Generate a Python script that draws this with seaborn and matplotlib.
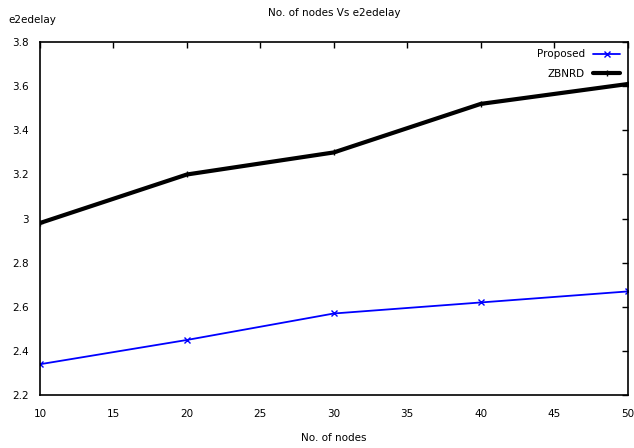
import matplotlib
matplotlib.use("Agg")
import matplotlib.pyplot as plt
import seaborn as sns

# ── Data ──────────────────────────────────────────────────────────────────────
NODES    = [10, 20, 30, 40, 50]
PROPOSED = [2.34, 2.45, 2.57, 2.62, 2.67]
ZBNRD    = [2.98, 3.20, 3.30, 3.52, 3.61]

X_TICKS = [10, 15, 20, 25, 30, 35, 40, 45, 50]
Y_TICKS = [2.2, 2.4, 2.6, 2.8, 3.0, 3.2, 3.4, 3.6, 3.8]
Y_LABELS = ["2.2", "2.4", "2.6", "2.8", "3", "3.2", "3.4", "3.6", "3.8"]

# ── Plot ──────────────────────────────────────────────────────────────────────
sns.set_style("white")
plt.rcParams["font.family"] = ["DejaVu Sans"]
plt.rcParams["text.color"] = "black"

fig = plt.figure(figsize=(6.34, 4.48), dpi=100)
ax = fig.add_axes([0.063, 0.118, 0.927, 0.788])

sns.lineplot(x=NODES, y=PROPOSED, color="#0000ff", linewidth=1.3,
             marker="x", markersize=5, markeredgewidth=1,
             markeredgecolor="#0000ff", label="Proposed", ax=ax)
sns.lineplot(x=NODES, y=ZBNRD, color="black", linewidth=3.0,
             marker="+", markersize=5, markeredgewidth=1,
             markeredgecolor="black", label="ZBNRD", ax=ax)

ax.set_xlim(10, 50)
ax.set_ylim(2.2, 3.8)
ax.set_xticks(X_TICKS)
ax.set_yticks(Y_TICKS)
ax.set_yticklabels(Y_LABELS)
ax.tick_params(direction="in", length=4, width=1, labelsize=7.5,
               top=True, right=True, pad=8, colors="black")
ax.tick_params(axis="x", pad=10)
for s in ax.spines.values():
    s.set_color("black")
    s.set_linewidth(1.2)

ax.set_xlabel("No. of nodes", fontsize=7.5, labelpad=10, color="black")
ax.set_ylabel("")
fig.text(0.013, 0.955, "e2edelay", fontsize=7.5, ha="left", va="center")
ax.set_title("No. of nodes Vs e2edelay", fontsize=7.5, pad=19, color="black")

ax.legend(loc="upper right", markerfirst=False, frameon=False,
          fontsize=7.5, handlelength=2.6, borderaxespad=0.3, labelspacing=0.9)

plt.savefig("out.png", dpi=100)
